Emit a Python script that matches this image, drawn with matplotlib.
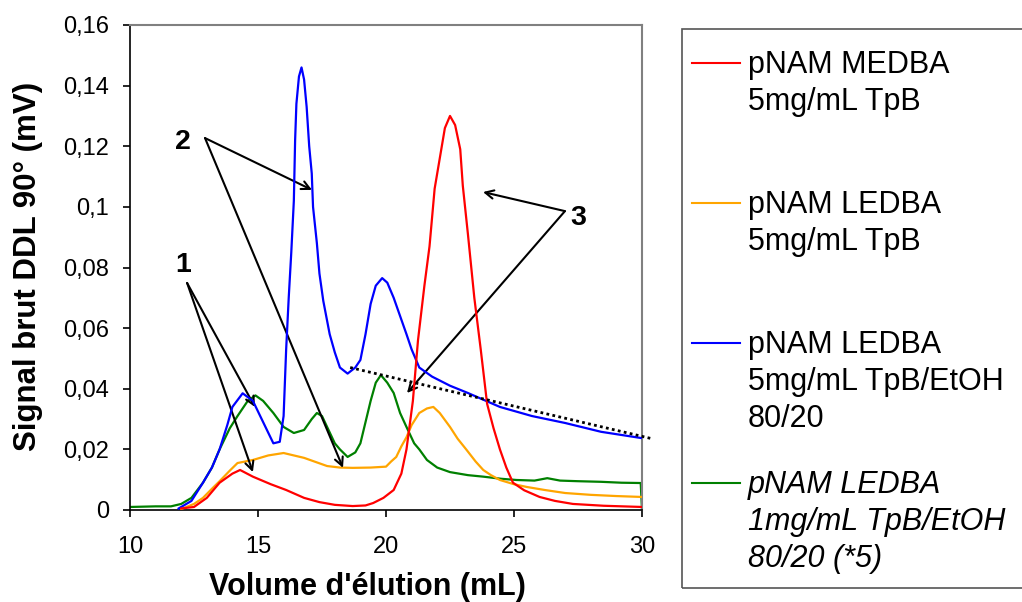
import numpy as np
import matplotlib
matplotlib.use('Agg')
import matplotlib.pyplot as plt
from matplotlib.lines import Line2D
from matplotlib.patches import Rectangle
from matplotlib.ticker import FuncFormatter

plt.rcParams['font.family'] = ['Liberation Sans', 'DejaVu Sans']

########################################################################################################################
#Data (elution volume in mL, raw signal in mV).

RedX = [12.0, 12.5, 13.0, 13.5, 14.0, 14.3, 14.8, 15.5, 16.1, 16.8, 17.4, 18.0, 18.7, 19.2, 19.5, 19.9, 20.3, 20.6,
        20.8, 21.05, 21.25, 21.5, 21.7, 21.9, 22.1, 22.3, 22.5, 22.7, 22.9, 23.0, 23.2, 23.45, 23.7, 23.95, 24.2,
        24.45, 24.7, 24.96, 25.4, 26.0, 26.6, 27.3, 28.5, 30.0]
RedY = [0.0005, 0.001, 0.004, 0.009, 0.012, 0.0132, 0.011, 0.0085, 0.0066, 0.004, 0.0026, 0.0017, 0.0013, 0.0015,
        0.0023, 0.004, 0.0066, 0.012, 0.02, 0.036, 0.056, 0.074, 0.087, 0.106, 0.116, 0.126, 0.130, 0.127, 0.119,
        0.107, 0.091, 0.070, 0.053, 0.035, 0.027, 0.020, 0.014, 0.009, 0.0065, 0.0043, 0.003, 0.002, 0.0014, 0.001]

OrangeX = [12.0, 12.5, 12.85, 13.2, 13.5, 13.9, 14.2, 14.8, 15.4, 16.0, 16.4, 16.8, 17.2, 17.7, 18.2, 18.7, 19.4,
           20.0, 20.2, 20.4, 20.6, 20.8, 21.0, 21.3, 21.6, 21.85, 22.1, 22.5, 22.8, 23.15, 23.5, 23.8, 24.1, 24.45,
           25.0, 25.5, 26.2, 27.0, 28.0, 29.0, 30.0]
OrangeY = [0.0003, 0.002, 0.004, 0.007, 0.0095, 0.013, 0.0155, 0.0165, 0.018, 0.0188, 0.018, 0.0172, 0.016, 0.0145,
           0.014, 0.0139, 0.014, 0.0143, 0.016, 0.0175, 0.021, 0.024, 0.028, 0.032, 0.0335, 0.034, 0.032, 0.0274,
           0.0235, 0.0198, 0.016, 0.0132, 0.0115, 0.0099, 0.0085, 0.0076, 0.0066, 0.0056, 0.005, 0.0046, 0.0043]

BlueX = [11.9, 12.4, 12.85, 13.2, 13.5, 13.8, 14.0, 14.4, 14.8, 15.2, 15.6, 15.85, 16.0, 16.1, 16.2, 16.3, 16.4,
         16.45, 16.5, 16.6, 16.7, 16.8, 16.9, 17.0, 17.1, 17.15, 17.3, 17.4, 17.55, 17.8, 18.0, 18.2, 18.5, 18.8,
         19.0, 19.2, 19.4, 19.6, 19.85, 20.05, 20.3, 20.55, 20.8, 21.0, 21.3, 21.8, 22.5, 23.2, 24.45, 25.7, 27.0,
         28.4, 30.0]
BlueY = [0.0005, 0.003, 0.009, 0.014, 0.02, 0.028, 0.034, 0.0385, 0.036, 0.029, 0.022, 0.0225, 0.031, 0.053, 0.07,
         0.085, 0.102, 0.122, 0.134, 0.143, 0.146, 0.142, 0.133, 0.12, 0.111, 0.1, 0.088, 0.078, 0.069, 0.058, 0.052,
         0.047, 0.045, 0.047, 0.0495, 0.058, 0.068, 0.074, 0.0765, 0.075, 0.070, 0.064, 0.058, 0.053, 0.047, 0.044,
         0.041, 0.0386, 0.034, 0.031, 0.0287, 0.0258, 0.0237]

GreenX = [10.0, 11.0, 11.6, 12.0, 12.4, 12.85, 13.2, 13.5, 13.9, 14.2, 14.6, 14.9, 15.2, 15.6, 16.0, 16.4, 16.8,
          17.1, 17.3, 17.5, 17.7, 18.0, 18.2, 18.5, 18.8, 19.0, 19.2, 19.4, 19.6, 19.8, 20.05, 20.3, 20.55, 20.8,
          21.1, 21.3, 21.6, 22.0, 22.5, 23.2, 23.8, 24.5, 25.1, 25.8, 26.3, 26.8, 27.5, 28.4, 29.2, 29.95, 30.0]
GreenY = [0.001, 0.0012, 0.0012, 0.002, 0.004, 0.009, 0.014, 0.02, 0.027, 0.031, 0.036, 0.0378, 0.036, 0.032,
          0.0274, 0.0254, 0.0264, 0.030, 0.032, 0.031, 0.0274, 0.022, 0.02, 0.0175, 0.019, 0.022, 0.029, 0.036,
          0.042, 0.0445, 0.042, 0.0386, 0.032, 0.0274, 0.022, 0.020, 0.0165, 0.014, 0.0125, 0.0115, 0.011, 0.0103,
          0.0099, 0.0097, 0.0105, 0.0097, 0.0095, 0.0093, 0.009, 0.0089, 0.0]

#Dotted baseline drawn under the blue trace.
BaseX = [18.6, 30.4]
BaseY = [0.047, 0.0235]

Labels = ['pNAM MEDBA\n5mg/mL TpB', 'pNAM LEDBA\n5mg/mL TpB', 'pNAM LEDBA\n5mg/mL TpB/EtOH\n80/20',
          'pNAM LEDBA\n1mg/mL TpB/EtOH\n80/20 (*5)']
Colors = ['#ff0000', '#ffa500', '#0000ff', '#008000']

#Peak labels: (text, text position, arrow start, arrow ends)
Peaks = [('1', (12.07, 0.0808), (12.23, 0.0749), [(14.88, 0.034), (14.8, 0.0125)]),
         ('2', (12.07, 0.1214), (12.93, 0.1227), [(17.11, 0.1056), (18.32, 0.0139)]),
         ('3', (27.5, 0.0963), (26.99, 0.0986), [(23.79, 0.1049), (20.82, 0.0386)])]

########################################################################################################################
#Figure

W, H = 1022, 602
fig = plt.figure(figsize=(W / 100, H / 100), dpi=100)
ax = fig.add_axes([130 / W, 1 - 510 / H, 512 / W, 485 / H])

ax.plot(GreenX, GreenY, color=Colors[3], lw=1.6, zorder=2)
ax.plot(OrangeX, OrangeY, color=Colors[1], lw=1.6, zorder=3)
ax.plot(BlueX, BlueY, color=Colors[2], lw=1.6, zorder=4)
ax.plot(RedX, RedY, color=Colors[0], lw=1.6, zorder=5)
ax.plot(BaseX, BaseY, color='black', lw=2, ls=(0, (1, 1.2)), clip_on=False, zorder=6)

for txt, tpos, start, ends in Peaks:
    ax.text(tpos[0], tpos[1], txt, fontsize=20.5, fontweight='bold', ha='center', va='center')
    for end in ends:
        ax.annotate('', xy=end, xytext=start,
                    arrowprops=dict(arrowstyle='->', color='black', lw=1.5, shrinkA=0, shrinkB=0,
                                    mutation_scale=15))

ax.set_xlim(10, 30)
ax.set_ylim(0, 0.16)
ax.set_xticks([10, 15, 20, 25, 30])
ax.set_yticks(np.arange(0, 0.161, 0.02))
ax.yaxis.set_major_formatter(FuncFormatter(lambda v, p: ('%g' % round(v, 2)).replace('.', ',')))
ax.tick_params(direction='out', length=5, width=1.2, labelsize=17)
ax.tick_params(axis='x', pad=14)
ax.tick_params(axis='y', pad=10)
for s in ['left', 'bottom']:
    ax.spines[s].set_color('black')
    ax.spines[s].set_linewidth(1.2)
for s in ['top', 'right']:
    ax.spines[s].set_color('#808080')
    ax.spines[s].set_linewidth(1.5)

ax.set_xlabel("Volume d'élution (mL)", fontsize=22, fontweight='bold', va='baseline')
ax.xaxis.set_label_coords(0.463, -0.175)
ax.set_ylabel('Signal brut DDL 90° (mV)', fontsize=22.5, fontweight='bold', va='center')
ax.yaxis.set_label_coords(-0.2, 0.503)

#Legend box, drawn by hand so each line sits level with the first text row.
fig.patches.append(Rectangle((682 / W, 1 - 588 / H), 360 / W, 559 / H, transform=fig.transFigure,
                             fill=False, edgecolor='#555555', lw=1.2))
FirstBase = [73, 213, 353, 493]
for i in range(len(Labels)):
    ly = 1 - (FirstBase[i] - 10) / H
    fig.add_artist(Line2D([692 / W, 740 / W], [ly, ly], color=Colors[i], lw=1.5, transform=fig.transFigure))
    for j, row in enumerate(Labels[i].split('\n')):
        fig.text(748 / W, 1 - (FirstBase[i] + 37 * j) / H, row, fontsize=22, va='baseline', ha='left',
                 style='italic' if i == 3 else 'normal')

plt.savefig('out.png', dpi=100)
